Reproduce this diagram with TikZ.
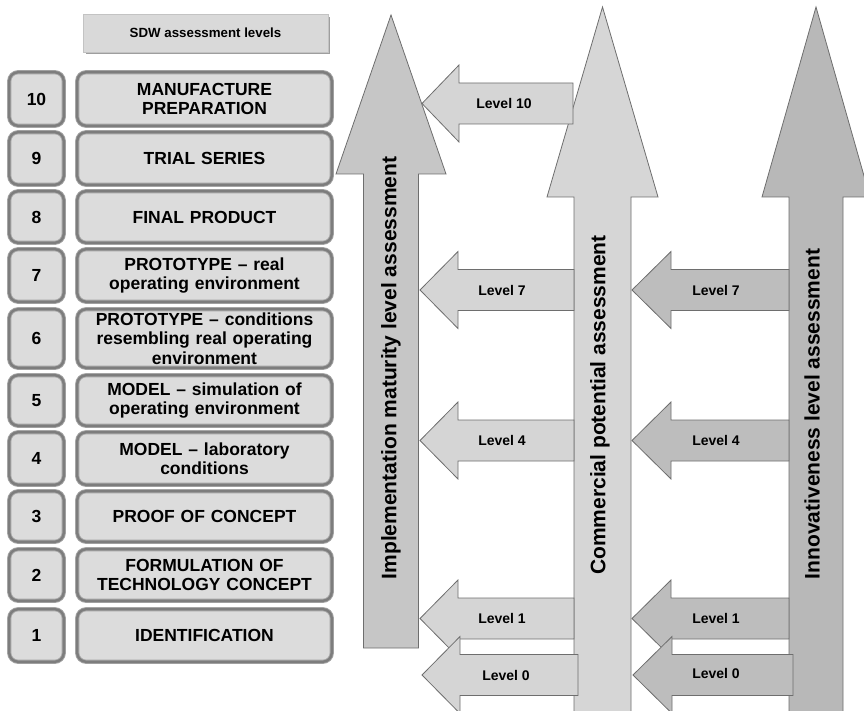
\documentclass[tikz,border=0pt]{standalone}
\usepackage{fontspec}
\setmainfont{Liberation Sans}
\definecolor{boxfill}{HTML}{DCDCDC}
\definecolor{boxedge}{HTML}{A6A6A6}
\definecolor{boxring}{HTML}{7D7D7D}
\definecolor{titlefill}{HTML}{D9D9D9}
\definecolor{titleshade}{HTML}{9E9E9E}
\definecolor{implfill}{HTML}{C6C6C6}
\definecolor{commfill}{HTML}{D6D6D6}
\definecolor{innofill}{HTML}{B8B8B8}
\definecolor{lightarr}{HTML}{D5D5D5}
\definecolor{darkarr}{HTML}{BDBDBD}
\definecolor{arredge}{HTML}{6E6E6E}

% up-pointing block arrow: centre x, tip y, head base y, shaft half width, head half width, bottom y, style
\newcommand\upblock[7]{%
  \filldraw[#7] (#1,#2) -- (#1+#5,#3) -- (#1+#4,#3) -- (#1+#4,#6)
    -- (#1-#4,#6) -- (#1-#4,#3) -- (#1-#5,#3) -- cycle;}
% left-pointing block arrow: tip x, head base x, tail x, centre y, style
\newcommand\leftblock[5]{%
  \filldraw[#5] (#1,#4) -- (#2,#4-38.5) -- (#2,#4-20.5) -- (#3,#4-20.5)
    -- (#3,#4+20.5) -- (#2,#4+20.5) -- (#2,#4+38.5) -- cycle;}

\begin{document}
\begin{tikzpicture}[x=1pt,y=-1pt,
  framed/.style={draw=boxedge, double=boxring, line width=0.9pt,
    double distance=2.4pt, fill=boxfill, rounded corners=9pt, inner sep=0pt,
    font=\fontsize{17.5}{19.5}\selectfont\bfseries, align=center},
  numbox/.style={framed, minimum width=54.6pt},
  stagebox/.style={framed, minimum width=254.6pt, text width=250pt},
  arrow edge/.style={draw=arredge, line width=0.8pt},
  axislabel/.style={rotate=90, font=\fontsize{21}{25}\selectfont\bfseries},
  lvlabel/.style={font=\fontsize{14}{16}\selectfont\bfseries}]
\useasboundingbox (0,0) rectangle (864,711);

% heading of the level column
\fill[titleshade] (86,17) rectangle (330,54);
\node[fill=titlefill, draw=titlefill!90!black, line width=0.4pt,
  minimum width=245pt, minimum height=38pt, inner sep=0pt,
  font=\fontsize{13.3}{15}\selectfont\bfseries] (title) at (205.5,33) {SDW assessment levels};

% level column: number box and stage description
\foreach \n/\c/\h/\t in {
  10/99/58/{MANUFACTURE\\PREPARATION},
  9/158.5/57/{TRIAL SERIES},
  8/217/56/{FINAL PRODUCT},
  7/275.5/57/{PROTOTYPE – real\\operating environment},
  6/338.5/63/{PROTOTYPE – conditions\\resembling real operating\\environment},
  5/400.5/55/{MODEL – simulation of\\operating environment},
  4/458.5/57/{MODEL – laboratory\\conditions},
  3/516.5/55/{PROOF OF CONCEPT},
  2/575/56/{FORMULATION OF\\TECHNOLOGY CONCEPT},
  1/635.5/57/{IDENTIFICATION}}{
  \node[numbox, minimum height={\h*1pt-4.4pt}] (num\n) at (36.5,\c) {\n};
  \node[stagebox, minimum height={\h*1pt-4.4pt}] (stage\n) at (204.5,\c) {\t};
}

% the three assessment axes
\upblock{391}{15}{174}{27.5}{55}{648}{arrow edge, fill=implfill}
\upblock{602.5}{7}{197}{28.5}{55.5}{716}{arrow edge, fill=commfill}
\upblock{816}{7}{197}{27}{54}{716}{arrow edge, fill=innofill}

\node[axislabel] (impl) at (391,368) {Implementation maturity level assessment};
\node[axislabel] (comm) at (600,405) {Commercial potential assessment};
\node[axislabel] (inno) at (812,414) {Innovativeness level assessment};

% levels passed on towards the implementation axis
\leftblock{422}{459}{573}{103.5}{arrow edge, fill=lightarr}
\leftblock{420}{458}{574}{290}{arrow edge, fill=lightarr}
\leftblock{420}{458}{574}{440.5}{arrow edge, fill=lightarr}
\leftblock{420}{458}{574}{618.5}{arrow edge, fill=lightarr}
\leftblock{422}{460}{578}{675}{arrow edge, fill=lightarr}

% levels passed on towards the commercial axis
\leftblock{632}{671}{789}{290}{arrow edge, fill=darkarr}
\leftblock{632}{671}{789}{440.5}{arrow edge, fill=darkarr}
\leftblock{632}{671}{789}{618.5}{arrow edge, fill=darkarr}
\leftblock{633}{672}{793}{675}{arrow edge, fill=darkarr}

\node[lvlabel] (l10) at (504,103.5) {Level 10};
\node[lvlabel] (l7a) at (502,290) {Level 7};
\node[lvlabel] (l4a) at (502,440.5) {Level 4};
\node[lvlabel] (l1a) at (502,618.5) {Level 1};
\node[lvlabel] (l0a) at (506,675) {Level 0};
\node[lvlabel] (l7b) at (716,290) {Level 7};
\node[lvlabel] (l4b) at (716,440.5) {Level 4};
\node[lvlabel] (l1b) at (716,618.5) {Level 1};
\node[lvlabel] (l0b) at (716,673) {Level 0};
\end{tikzpicture}
\end{document}
